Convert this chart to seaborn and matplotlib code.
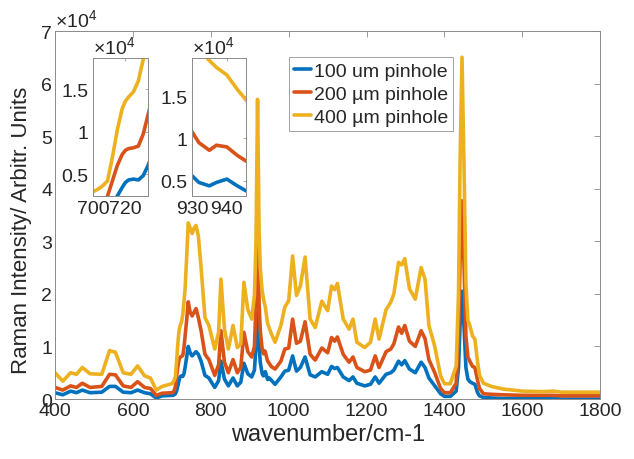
import matplotlib
matplotlib.use("Agg")
import matplotlib.pyplot as plt
import seaborn as sns
import pandas as pd

wavenumber = [400, 420, 440, 455, 470, 490, 520, 540, 555, 575, 595, 612, 630, 645, 660, 675,
              700, 703, 706, 709, 712, 715, 718, 720, 722, 725, 728, 731, 734, 738, 742, 747,
              752, 757, 762, 768, 775, 785, 795, 810, 820, 826, 835, 845, 857, 868, 877, 885,
              895, 905, 912, 916, 920, 924, 927, 930, 932, 935, 937, 940, 943, 946, 950, 955,
              965, 980, 990, 1000, 1010, 1020, 1030, 1042, 1055, 1068, 1085, 1100, 1110, 1118,
              1125, 1140, 1155, 1165, 1175, 1195, 1210, 1222, 1232, 1250, 1262, 1270, 1282, 1290,
              1298, 1310, 1325, 1340, 1350, 1360, 1375, 1390, 1400, 1415, 1430, 1436, 1440, 1445,
              1450, 1455, 1460, 1465, 1472, 1478, 1485, 1490, 1500, 1520, 1550, 1600, 1650, 1680,
              1700, 1750, 1800]

# intensities in units of 1e4
pinhole_400 = [0.50, 0.34, 0.50, 0.47, 0.60, 0.48, 0.47, 0.92, 0.89, 0.50, 0.47, 0.63, 0.44, 0.40, 0.17, 0.24,
               0.29, 0.32, 0.36, 0.42, 0.70, 1.02, 1.27, 1.36, 1.41, 1.47, 1.60, 1.85, 2.10, 2.70, 3.35, 3.25,
               3.15, 3.25, 3.30, 3.10, 2.50, 1.55, 1.40, 0.95, 1.27, 2.28, 1.33, 0.95, 1.40, 0.98, 1.05, 2.22,
               1.70, 1.52, 1.97, 3.00, 5.70, 3.20, 2.50, 2.20, 2.05, 1.92, 1.84, 1.75, 1.58, 1.43, 1.35, 1.25,
               1.08, 1.40, 1.75, 1.87, 2.72, 1.97, 2.15, 2.70, 1.52, 1.36, 1.86, 1.68, 2.15, 2.08,
               2.20, 1.52, 1.33, 1.52, 1.08, 0.98, 1.08, 1.52, 1.14, 1.70, 1.84, 2.00, 2.60, 2.55,
               2.67, 2.10, 1.90, 2.50, 2.28, 1.40, 1.00, 0.44, 0.29, 0.29, 0.63, 2.00, 4.50, 6.50,
               4.50, 2.20, 1.50, 1.40, 1.20, 1.14, 0.70, 0.45, 0.30, 0.24, 0.19, 0.15, 0.14, 0.15,
               0.13, 0.13, 0.13]

pinhole_200 = [0.22, 0.17, 0.25, 0.22, 0.30, 0.22, 0.24, 0.47, 0.46, 0.25, 0.22, 0.33, 0.22, 0.20, 0.07, 0.11,
               0.12, 0.13, 0.16, 0.24, 0.42, 0.60, 0.73, 0.78, 0.80, 0.81, 0.83, 0.97, 1.20, 1.50, 1.85, 1.65,
               1.58, 1.65, 1.72, 1.55, 1.30, 0.85, 0.75, 0.45, 0.65, 1.30, 0.70, 0.50, 0.75, 0.50, 0.60, 1.27,
               0.90, 0.80, 1.00, 1.80, 3.55, 1.80, 1.30, 1.08, 0.95, 0.86, 0.92, 0.90, 0.80, 0.72, 0.68, 0.62,
               0.57, 0.72, 0.95, 0.97, 1.52, 1.06, 1.10, 1.47, 0.85, 0.74, 0.97, 0.88, 1.17, 1.10,
               1.18, 0.85, 0.70, 0.80, 0.60, 0.52, 0.55, 0.82, 0.60, 0.90, 0.95, 1.05, 1.37, 1.25,
               1.40, 1.10, 1.00, 1.30, 1.15, 0.75, 0.50, 0.20, 0.12, 0.12, 0.30, 1.20, 2.60, 3.77,
               2.60, 1.20, 0.80, 0.72, 0.62, 0.60, 0.35, 0.20, 0.10, 0.09, 0.08, 0.07, 0.07, 0.07,
               0.06, 0.06, 0.06]

pinhole_100 = [0.12, 0.08, 0.15, 0.12, 0.17, 0.12, 0.13, 0.24, 0.24, 0.13, 0.12, 0.17, 0.12, 0.10, 0.02, 0.06,
               0.07, 0.07, 0.08, 0.10, 0.15, 0.24, 0.34, 0.40, 0.43, 0.44, 0.43, 0.48, 0.60, 0.80, 1.00, 0.88,
               0.82, 0.86, 0.90, 0.85, 0.72, 0.45, 0.40, 0.22, 0.35, 0.72, 0.38, 0.25, 0.40, 0.25, 0.32, 0.68,
               0.48, 0.42, 0.55, 1.00, 2.00, 1.00, 0.70, 0.56, 0.48, 0.44, 0.48, 0.52, 0.44, 0.37, 0.40, 0.36,
               0.28, 0.42, 0.53, 0.55, 0.82, 0.53, 0.60, 0.80, 0.46, 0.42, 0.52, 0.47, 0.62, 0.58,
               0.60, 0.42, 0.35, 0.42, 0.30, 0.25, 0.28, 0.42, 0.30, 0.47, 0.50, 0.55, 0.72, 0.65,
               0.73, 0.57, 0.50, 0.70, 0.60, 0.40, 0.25, 0.10, 0.05, 0.05, 0.15, 0.60, 1.40, 2.05,
               1.40, 0.60, 0.38, 0.33, 0.30, 0.28, 0.12, 0.06, 0.03, 0.02, 0.01, 0.01, 0.01, 0.01,
               0.00, 0.00, 0.00]

series_labels = ["100 um pinhole", "200 \u00b5m pinhole", "400 \u00b5m pinhole"]
series_colors = ["#0072BD", "#D95319", "#EDB120"]

assert len(wavenumber) == len(pinhole_400) == len(pinhole_200) == len(pinhole_100)

frames = []
for lab, vals in zip(series_labels, [pinhole_100, pinhole_200, pinhole_400]):
    frames.append(pd.DataFrame({"wavenumber": wavenumber, "intensity": vals, "series": lab}))
df = pd.concat(frames, ignore_index=True)

sns.set_style("white")
plt.rcParams["font.family"] = ["Liberation Sans", "DejaVu Sans"]
plt.rcParams["mathtext.fontset"] = "custom"
plt.rcParams["mathtext.rm"] = "Liberation Sans"

TXT = "#262626"
EDGE = "#8a8a8a"
palette = dict(zip(series_labels, series_colors))

fig = plt.figure(figsize=(6.34, 4.60), dpi=100)
ax = fig.add_axes([0.0868, 0.1304, 0.860, 0.800])

sns.lineplot(data=df, x="wavenumber", y="intensity", hue="series", palette=palette,
             hue_order=series_labels, linewidth=2.6, ax=ax, legend=False, sort=False)

ax.set_xlim(400, 1800)
ax.set_ylim(0, 7)
ax.set_xticks([400, 600, 800, 1000, 1200, 1400, 1600, 1800])
ax.set_yticks([0, 1, 2, 3, 4, 5, 6, 7])
ax.tick_params(direction="in", top=True, right=True, length=4, width=0.6,
               labelsize=14, colors=EDGE, labelcolor=TXT, pad=2)
for s in ax.spines.values():
    s.set_color(EDGE)
    s.set_linewidth(0.7)
ax.set_xlabel("wavenumber/cm-1", fontsize=17, color=TXT, labelpad=3)
ax.set_ylabel("Raman Intensity/ Arbitr. Units", fontsize=16, color=TXT)
ax.yaxis.set_label_coords(-0.043, 0.46)
ax.text(0.0, 1.0, r"$\times10^{4}$", transform=ax.transAxes, fontsize=14,
        color=TXT, ha="left", va="bottom")

handles = ax.get_lines()[:3]
leg = ax.legend(handles, series_labels, loc="upper left", bbox_to_anchor=(0.429, 0.929),
                borderaxespad=0, frameon=True, fancybox=False, fontsize=14,
                handlelength=0.9, handletextpad=0.15, borderpad=0.25, labelspacing=0.28)
leg.get_frame().set_edgecolor(EDGE)
leg.get_frame().set_linewidth(0.7)
for t in leg.get_texts():
    t.set_color(TXT)

insets = [
    ([0.1467, 0.5717, 0.0868, 0.300], (700, 734), (0.24, 1.87), [700, 720]),
    ([0.3028, 0.5717, 0.0852, 0.300], (930, 945.5), (0.32, 1.95), [930, 940]),
]
for pos, xl, yl, xt in insets:
    ia = fig.add_axes(pos)
    sns.lineplot(data=df, x="wavenumber", y="intensity", hue="series", palette=palette,
                 hue_order=series_labels, linewidth=2.6, ax=ia, legend=False, sort=False)
    ia.set_xlim(*xl)
    ia.set_ylim(*yl)
    ia.set_xticks(xt)
    ia.set_yticks([0.5, 1, 1.5])
    ia.set_yticklabels(["0.5", "1", "1.5"])
    ia.set_xlabel("")
    ia.set_ylabel("")
    ia.tick_params(direction="in", top=True, right=True, length=2, width=0.5,
                   labelsize=14, colors=EDGE, labelcolor=TXT, pad=3)
    for s in ia.spines.values():
        s.set_color(EDGE)
        s.set_linewidth(0.7)
    ia.text(0.0, 1.0, r"$\times10^{4}$", transform=ia.transAxes, fontsize=14,
            color=TXT, ha="left", va="bottom")

fig.savefig("out.png", dpi=100)
